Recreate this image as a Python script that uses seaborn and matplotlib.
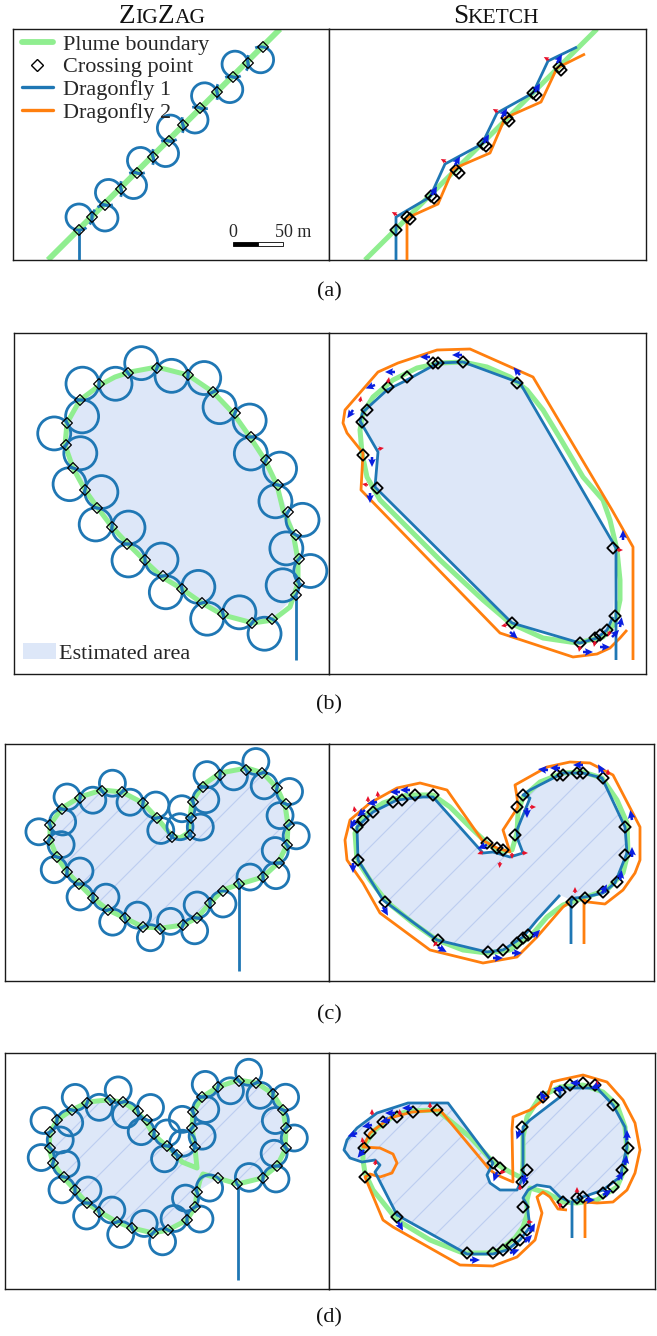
import numpy as np
import matplotlib
matplotlib.use("Agg")
import matplotlib.pyplot as plt
import seaborn as sns
from matplotlib.patches import Polygon, Circle, Arc, Rectangle, Patch
from matplotlib.lines import Line2D
from matplotlib.offsetbox import TextArea, HPacker, AnnotationBbox

sns.set_theme(style="white")
plt.rcParams["font.family"] = ["Liberation Serif", "DejaVu Serif"]

# ---------------- colours / styles ----------------
PLUME = "#90ee90"
D1 = "#1f77b4"
D2 = "#ff7f0e"
AREA = "#dde7f8"
HATCH = "#bccdf0"
LW_PLUME = 3.6
LW_TRACK = 2.0

# ---------------- data: field coordinates in metres (x east, y south) ----------------
# (a) straight plume front
A_PLUME_L = [(48, 260), (280, 29)]
A_PLUME_R = [(365, 260), (597, 29)]
A_ZZ_ENTRY = [(79, 260), (79, 230)]
A_ZZ_CROSS = [(79, 230), (92, 217), (105, 205), (121, 189), (137, 173), (153, 157), (169, 141),
              (183, 125), (200, 108), (217, 92), (233, 77), (248, 63), (263, 47)]
A_SK_D1 = [(396, 260), (396, 217), (430, 197), (445, 164), (482, 144), (497, 113), (533, 93),
           (548, 61), (577, 47)]
A_SK_D2 = [(407, 260), (407, 218), (438, 204), (453, 169), (490, 153), (505, 118), (541, 102),
           (557, 68), (585, 54)]
A_SK_CROSS = [(396, 230), (407, 217), (410, 219), (431, 196), (434, 198), (456, 170), (459, 173),
              (483, 144), (486, 146), (507, 118), (509, 121), (533, 93), (536, 95), (559, 67), (561, 70)]
A_SK_RED = [(397, 215, 150), (446, 162, 150), (498, 112, 150), (549, 60, 150)]
A_SK_BLUE = [(432, 195, 60), (455, 165, 60), (484, 143, 60), (502, 117, 60), (535, 92, 60), (557, 63, 60)]

# (b) elliptical plume
B_PLUME_L = [(157, 367), (188, 375), (213, 392), (233, 413), (250, 437), (265, 460), (277, 485),
             (283, 510), (293, 533), (298, 560), (298, 583), (290, 607), (273, 620), (253, 623),
             (223, 615), (202, 603), (182, 589), (162, 577), (145, 561), (127, 543), (112, 527),
             (97, 507), (85, 490), (73, 468), (65, 445), (67, 423), (80, 400), (100, 385),
             (115, 377), (130, 372)]
B_ZZ_ENTRY = [(296, 660), (296, 595)]
B_ZZ_CROSS = [(296, 595), (299, 583), (299, 559), (296, 535), (288, 512), (278, 485), (266, 460),
              (251, 437), (235, 413), (213, 392), (188, 375), (157, 368), (128, 373), (99, 384),
              (80, 400), (67, 423), (66, 445), (73, 468), (85, 490), (97, 508), (112, 527),
              (127, 544), (145, 560), (163, 576), (182, 589), (202, 603), (223, 614), (252, 623),
              (272, 619)]
B_PLUME_R = [(463, 362), (487, 367), (510, 377), (527, 390), (543, 410), (563, 443), (583, 477),
             (603, 500), (610, 520), (617, 550), (620, 580), (620, 600), (615, 623), (603, 637),
             (577, 643), (543, 638), (510, 623), (483, 600), (440, 560), (380, 500), (367, 477),
             (362, 453), (360, 430), (363, 413), (373, 397), (393, 380), (417, 368), (440, 363)]
B_SK_D1 = [(616, 660), (616, 617), (616, 548), (520, 383), (463, 362), (438, 363), (405, 381),
           (387, 390), (363, 412), (360, 421), (378, 452), (375, 487), (512, 623), (580, 643),
           (597, 638), (607, 630), (613, 617)]
B_SK_D2 = [(633, 660), (633, 547), (612, 510), (533, 377), (470, 349), (437, 350), (398, 363),
           (378, 372), (345, 410), (343, 423), (347, 433), (363, 453), (361, 490), (500, 633),
           (573, 657), (597, 654), (610, 648), (620, 638), (627, 630)]
B_SK_CROSS = [(362, 422), (367, 410), (388, 387), (407, 377), (433, 363), (438, 363), (463, 362),
              (517, 383), (363, 455), (377, 488), (613, 548), (512, 623), (580, 643), (595, 638),
              (600, 635), (607, 630), (615, 616)]
B_SK_RED = [(388, 383, 80), (360, 402, 80), (378, 449, 10), (368, 485, 170), (617, 550, 0),
            (507, 625, 190), (580, 646, 260), (595, 641, 260), (610, 631, 250)]
B_SK_BLUE = [(395, 372, 180), (375, 385, 200), (353, 410, 235), (372, 457, 270), (370, 493, 270),
             (430, 357, 180), (462, 355, 180), (520, 375, 130), (623, 540, 90), (510, 632, 320),
             (583, 652, 0), (600, 647, 0), (612, 637, 45), (620, 627, 80)]

# (c) heart-shaped plume
C_PLUME_L = [(240, 884), (263, 877), (278, 863), (287, 845), (288, 825), (285, 805), (277, 788),
             (263, 773), (247, 768), (220, 773), (203, 785), (192, 802), (190, 818), (188, 833),
             (180, 838), (172, 836), (157, 818), (143, 803), (122, 792), (102, 790), (80, 797),
             (62, 808), (50, 825), (50, 840), (57, 857), (67, 872), (80, 885), (93, 898), (108, 910),
             (125, 918), (143, 927), (162, 928), (183, 925), (197, 918), (210, 903), (223, 890)]
C_ZZ_ENTRY = [(239, 971), (239, 884)]
C_ZZ_CROSS = [(239, 884), (263, 877), (279, 863), (287, 845), (289, 825), (286, 804), (277, 788),
              (262, 773), (246, 770), (220, 775), (203, 787), (193, 802), (191, 818), (190, 835),
              (172, 837), (157, 818), (143, 803), (122, 792), (102, 791), (80, 798), (62, 809),
              (50, 825), (49, 840), (57, 857), (67, 872), (79, 884), (93, 898), (108, 910),
              (125, 918), (143, 927), (160, 929), (183, 925), (197, 918), (210, 903), (223, 891)]
C_PLUME_R = [(357, 860), (355, 833), (363, 817), (383, 803), (407, 795), (433, 795), (450, 807),
             (470, 827), (487, 843), (500, 852), (512, 850), (517, 833), (518, 813), (523, 797),
             (540, 782), (563, 773), (583, 772), (602, 778), (617, 800), (627, 823), (628, 853),
             (623, 873), (607, 890), (583, 898), (563, 905), (547, 917), (530, 937), (510, 950),
             (487, 953), (463, 950), (437, 940), (413, 923), (387, 902), (370, 880)]
C_SK_D1 = [(571, 944), (571, 900), (575, 898), (585, 897), (603, 893), (615, 883), (623, 863),
           (627, 853), (625, 827), (602, 778), (583, 773), (563, 773), (530, 790), (523, 795),
           (530, 798), (517, 830), (518, 840), (523, 853), (510, 857), (493, 852), (483, 853),
           (433, 797), (423, 797), (397, 800), (373, 812), (357, 827), (358, 860), (383, 900),
           (437, 940), (487, 952), (503, 950), (523, 937), (537, 920), (560, 895)]
C_SK_D2 = [(584, 944), (584, 900), (588, 902), (605, 904), (623, 890), (635, 873), (640, 860),
           (640, 827), (613, 775), (590, 763), (570, 762), (547, 767), (515, 785), (517, 797),
           (518, 807), (503, 830), (510, 852), (497, 848), (482, 840), (447, 790), (420, 783),
           (397, 788), (370, 803), (350, 820), (345, 840), (347, 860), (363, 883), (380, 913),
           (430, 950), (483, 963), (517, 957), (537, 937), (563, 907), (570, 902)]
C_SK_CROSS = [(357, 827), (358, 860), (385, 902), (438, 940), (488, 952), (503, 950), (517, 943),
              (523, 938), (528, 935), (572, 902), (585, 898), (603, 892), (617, 882), (625, 855),
              (625, 827), (603, 778), (583, 773), (577, 773), (563, 775), (557, 775), (523, 795),
              (517, 807), (515, 835), (497, 848), (503, 850), (487, 843), (433, 795), (415, 795),
              (402, 800), (393, 802), (373, 812), (363, 820)]
C_SK_RED = [(355, 812, 100), (368, 802, 90), (378, 797, 95), (437, 942, 230), (575, 893, 90),
            (530, 807, 0), (512, 853, 270), (500, 862, 265), (483, 852, 200), (522, 853, 0),
            (608, 775, 90)]
C_SK_BLUE = [(355, 820, 240), (353, 863, 270), (383, 907, 300), (438, 947, 330), (493, 958, 0),
             (512, 953, 0), (533, 937, 45), (602, 893, 60), (620, 880, 80), (632, 857, 90),
             (632, 820, 100), (603, 773, 120), (560, 768, 180), (583, 765, 180), (377, 802, 190),
             (400, 792, 180), (365, 810, 220), (487, 845, 200), (527, 808, 270), (410, 790, 180),
             (548, 770, 175)]

# (d) two-lobed plume
D_PLUME_L = [(238, 1184), (262, 1178), (277, 1166), (285, 1150), (286, 1128), (283, 1110),
             (273, 1094), (257, 1083), (238, 1080), (218, 1087), (202, 1097), (193, 1112),
             (192, 1128), (195, 1148), (197, 1168), (182, 1162), (177, 1155), (163, 1143),
             (153, 1134), (145, 1120), (135, 1110), (123, 1102), (107, 1100), (88, 1102),
             (72, 1110), (57, 1120), (50, 1133), (49, 1148), (53, 1163), (63, 1177), (75, 1190),
             (87, 1203), (100, 1212), (117, 1222), (132, 1228), (153, 1233), (168, 1230),
             (187, 1220), (195, 1207), (197, 1192), (200, 1180), (203, 1174), (217, 1178)]
D_ZZ_ENTRY = [(238, 1280), (238, 1184)]
D_ZZ_CROSS = [(237, 1184), (263, 1178), (277, 1166), (286, 1148), (286, 1128), (283, 1110),
              (273, 1094), (256, 1083), (239, 1081), (218, 1087), (202, 1097), (193, 1112),
              (192, 1128), (195, 1147), (177, 1155), (167, 1146), (154, 1134), (147, 1120),
              (138, 1111), (123, 1102), (110, 1100), (87, 1103), (72, 1110), (57, 1120),
              (50, 1132), (50, 1148), (53, 1163), (64, 1177), (75, 1190), (87, 1203), (99, 1212),
              (117, 1222), (132, 1228), (153, 1233), (168, 1230), (187, 1220), (195, 1207),
              (197, 1192), (218, 1178)]
D_PLUME_R = [(437, 1110), (470, 1137), (493, 1162), (510, 1172), (522, 1178), (523, 1160),
             (523, 1137), (527, 1117), (540, 1097), (560, 1087), (583, 1085), (603, 1092),
             (617, 1105), (625, 1127), (627, 1150), (623, 1173), (617, 1187), (597, 1200),
             (577, 1203), (563, 1202), (547, 1193), (530, 1188), (527, 1200), (527, 1215),
             (523, 1227), (515, 1238), (500, 1250), (487, 1253), (463, 1253), (430, 1240),
             (397, 1220), (373, 1190), (365, 1173), (363, 1160), (363, 1147), (375, 1130),
             (395, 1115), (410, 1111)]
D_SK_D1 = [(572, 1238), (572, 1202), (583, 1197), (603, 1190), (620, 1177), (627, 1147),
           (625, 1127), (613, 1105), (597, 1088), (577, 1088), (560, 1088), (560, 1097),
           (530, 1120), (523, 1127), (523, 1177), (517, 1190), (500, 1190), (490, 1183),
           (487, 1175), (493, 1163), (448, 1103), (408, 1103), (377, 1113), (357, 1128),
           (347, 1140), (344, 1150), (350, 1158), (362, 1162), (375, 1160), (380, 1165),
           (375, 1172), (397, 1215), (467, 1254), (493, 1254), (507, 1250), (520, 1240),
           (530, 1227), (527, 1205), (523, 1198), (528, 1190), (537, 1185), (550, 1187),
           (560, 1197), (570, 1202)]
D_SK_D2 = [(585, 1238), (585, 1202), (597, 1203), (613, 1202), (627, 1190), (635, 1173),
           (640, 1150), (635, 1123), (623, 1100), (607, 1082), (583, 1075), (560, 1080),
           (552, 1082), (547, 1097), (530, 1110), (513, 1117), (512, 1130), (513, 1182),
           (497, 1175), (490, 1170), (440, 1110), (412, 1112), (390, 1118), (370, 1133),
           (363, 1147), (380, 1148), (393, 1154), (397, 1163), (392, 1173), (380, 1177),
           (370, 1174), (365, 1177), (383, 1220), (393, 1227), (460, 1265), (493, 1266),
           (517, 1257), (535, 1240), (542, 1213), (537, 1197), (543, 1192), (550, 1197),
           (558, 1209), (567, 1210)]
D_SK_CROSS = [(364, 1148), (365, 1177), (397, 1217), (467, 1253), (493, 1253), (503, 1250),
              (512, 1245), (520, 1240), (527, 1230), (523, 1207), (522, 1182), (527, 1170),
              (522, 1127), (543, 1097), (560, 1092), (570, 1085), (583, 1083), (595, 1085),
              (613, 1105), (628, 1148), (622, 1170), (613, 1187), (603, 1193), (583, 1197),
              (577, 1198), (563, 1202), (493, 1163), (500, 1168), (437, 1110), (413, 1112),
              (397, 1117), (383, 1122), (370, 1133)]
D_SK_RED = [(363, 1143, 100), (372, 1115, 90), (375, 1165, 80), (500, 1172, 0), (520, 1190, 90),
            (577, 1193, 90), (597, 1086, 90), (560, 1203, 270), (430, 1108, 90), (400, 1115, 95),
            (527, 1222, 0)]
D_SK_BLUE = [(357, 1133, 200), (372, 1125, 190), (395, 1113, 180), (412, 1108, 180),
             (390, 1120, 190), (364, 1150, 230), (398, 1222, 300), (470, 1260, 0), (510, 1253, 20),
             (525, 1242, 45), (530, 1232, 60), (627, 1140, 90), (625, 1165, 80), (618, 1180, 60),
             (603, 1195, 30), (585, 1200, 0), (545, 1100, 120), (563, 1090, 170), (580, 1083, 180),
             (600, 1085, 200), (520, 1130, 250), (497, 1172, 250), (525, 1175, 260)]

# panel frames: (x0, x1, y0, y1) in the shared field frame
FRAMES = {
    "a": ((13, 329), (329, 646), (29, 260)),
    "b": ((14, 329), (329, 646), (333, 674)),
    "c": ((5, 329), (329, 654), (744, 981)),
    "d": ((5, 329), (329, 655), (1053, 1289)),
}
CAPTIONS = [("(a)", 292), ("(b)", 705), ("(c)", 1015), ("(d)", 1318)]

FIG_W, FIG_H = 657, 1336
fig = plt.figure(figsize=(FIG_W / 100, FIG_H / 100), dpi=100)


def add_ax(xr, yr):
    x0, x1 = xr
    y0, y1 = yr
    ax = fig.add_axes([x0 / FIG_W, 1 - y1 / FIG_H, (x1 - x0) / FIG_W, (y1 - y0) / FIG_H])
    ax.set_facecolor("white")
    for s in ax.spines.values():
        s.set_visible(True)
        s.set_color("#1a1a1a")
        s.set_linewidth(1.0)
    ax._frame = (x0, x1, y0, y1)
    return ax


def finish(ax):
    x0, x1, y0, y1 = ax._frame
    ax.set_xlim(x0, x1)
    ax.set_ylim(y1, y0)
    ax.set_xticks([])
    ax.set_yticks([])
    ax.set_xlabel("")
    ax.set_ylabel("")


def line(ax, pts, color, lw, z, closed=False):
    p = np.asarray(pts, float)
    if closed:
        p = np.vstack([p, p[:1]])
    sns.lineplot(x=p[:, 0], y=p[:, 1], sort=False, estimator=None, color=color, lw=lw,
                 ax=ax, zorder=z, solid_joinstyle="round", solid_capstyle="butt")


def crossings(ax, pts, lw=0.9, size=30):
    p = np.asarray(pts, float)
    ax.scatter(p[:, 0], p[:, 1], marker="D", s=size, facecolors="none",
               edgecolors="black", linewidths=lw, zorder=6)


def area(ax, pts, hatch=False):
    poly = Polygon(np.asarray(pts, float), closed=True, fc=AREA, ec="none", zorder=1)
    ax.add_patch(poly)
    if hatch:
        x0, x1, y0, y1 = ax._frame
        for c in np.arange(x0 + y0, x1 + y1 + 36, 36):
            ln, = ax.plot([c - y1, c - y0], [y1, y0], color=HATCH, lw=0.8, zorder=1.5)
            ln.set_clip_path(poly)


def loops(ax, cross, r, first_side, extra=None):
    p = np.asarray(cross, float)
    for i in range(len(p) - 1):
        a, b = p[i], p[i + 1]
        v = b - a
        c = np.hypot(*v)
        n = np.array([-v[1], v[0]]) / c
        s = first_side * (-1) ** i
        R = max(r, c / 2 + 0.5)
        h = np.sqrt(max(R ** 2 - (c / 2) ** 2, 0.0))
        ctr = (a + b) / 2 + s * h * n
        if extra is None:
            ax.add_patch(Circle(ctr, R, fill=False, ec=D1, lw=LW_TRACK, zorder=4))
        else:
            phi = np.degrees(np.arctan2(s * n[1], s * n[0]))
            alpha = 180 - np.degrees(np.arcsin(min(c / (2 * R), 1.0)))
            ax.add_patch(Arc(ctr, 2 * R, 2 * R, theta1=phi - alpha - extra,
                             theta2=phi + alpha + extra, ec=D1, lw=LW_TRACK, zorder=4))


def arrows(ax, spec, color, length, width):
    a = np.asarray(spec, float)
    ang = np.radians(a[:, 2])
    ax.quiver(a[:, 0], a[:, 1], length * np.cos(ang), -length * np.sin(ang), color=color,
              angles="xy", scale_units="xy", scale=1, width=width, headwidth=3.0,
              headlength=3.2, headaxislength=2.8, zorder=7)


def small_caps(x_px, y_px, parts, big=19.5, small=15.5):
    boxes = [TextArea(t, textprops=dict(fontsize=big if b else small, color="#111111"))
             for t, b in parts]
    pack = HPacker(children=boxes, align="baseline", pad=0, sep=0)
    ab = AnnotationBbox(pack, (x_px / FIG_W, 1 - y_px / FIG_H), xycoords="figure fraction",
                        box_alignment=(0.5, 0.0), frameon=False, pad=0)
    fig.add_artist(ab)


def sketch_side(ax, plume, d1, d2, cross, red, blue, area_start, hatch):
    area(ax, d1[area_start:], hatch=hatch)
    line(ax, plume, PLUME, LW_PLUME, 2, closed=len(plume) > 2)
    line(ax, d2, D2, LW_TRACK, 4)
    line(ax, d1, D1, LW_TRACK, 4)
    crossings(ax, cross, lw=1.3, size=34)
    arrows(ax, red, "#e8102a", 6, 0.005)
    arrows(ax, blue, "#0a1fe0", 10, 0.008)
    finish(ax)


# ---------------- (a) ----------------
axL = add_ax(FRAMES["a"][0], FRAMES["a"][2])
axR = add_ax(FRAMES["a"][1], FRAMES["a"][2])
line(axL, A_PLUME_L, PLUME, LW_PLUME + 0.6, 2)
line(axL, A_ZZ_ENTRY, D1, LW_TRACK, 4)
loops(axL, A_ZZ_CROSS, 13, -1, extra=35)
crossings(axL, A_ZZ_CROSS)
# scale bar (50 m)
axL.add_patch(Rectangle((233, 242), 25, 3.5, fc="black", ec="black", lw=0.6, zorder=5))
axL.add_patch(Rectangle((258, 242), 25, 3.5, fc="white", ec="black", lw=0.6, zorder=5))
axL.text(233, 237, "0", ha="center", va="baseline", fontsize=13)
axL.text(275, 237, "50 m", ha="left", va="baseline", fontsize=13)
handles = [Line2D([], [], color=PLUME, lw=LW_PLUME + 0.6),
           Line2D([], [], ls="none", marker="D", mfc="none", mec="black", ms=6, mew=1.0),
           Line2D([], [], color=D1, lw=LW_TRACK + 0.4),
           Line2D([], [], color=D2, lw=LW_TRACK + 0.4)]
axL.legend(handles, ["Plume boundary", "Crossing point", "Dragonfly 1", "Dragonfly 2"],
           loc="upper left", bbox_to_anchor=(0.028, 0.978), frameon=False, fontsize=16,
           handlelength=1.4, handletextpad=0.45, labelspacing=0.1, borderpad=0,
           borderaxespad=0)
finish(axL)

sketch_side(axR, A_PLUME_R, A_SK_D1, A_SK_D2, A_SK_CROSS, A_SK_RED, A_SK_BLUE, 0, False)
# no estimated area in the straight-front case
axR.patches[0].remove()

# ---------------- (b) ----------------
axL = add_ax(FRAMES["b"][0], FRAMES["b"][2])
axR = add_ax(FRAMES["b"][1], FRAMES["b"][2])
area(axL, B_ZZ_CROSS)
line(axL, B_PLUME_L, PLUME, LW_PLUME, 2, closed=True)
line(axL, B_ZZ_ENTRY, D1, LW_TRACK, 4)
loops(axL, B_ZZ_CROSS, 16.5, -1)
crossings(axL, B_ZZ_CROSS)
axL.legend([Patch(fc=AREA, ec="none")], ["Estimated area"], loc="lower left",
           bbox_to_anchor=(0.028, 0.03), frameon=False, fontsize=16, handlelength=1.5,
           handleheight=0.78, handletextpad=0.15, borderpad=0, borderaxespad=0)
finish(axL)
sketch_side(axR, B_PLUME_R, B_SK_D1, B_SK_D2, B_SK_CROSS, B_SK_RED, B_SK_BLUE, 2, False)

# ---------------- (c) ----------------
axL = add_ax(FRAMES["c"][0], FRAMES["c"][2])
axR = add_ax(FRAMES["c"][1], FRAMES["c"][2])
area(axL, C_ZZ_CROSS, hatch=True)
line(axL, C_PLUME_L, PLUME, LW_PLUME, 2, closed=True)
line(axL, C_ZZ_ENTRY, D1, LW_TRACK, 4)
loops(axL, C_ZZ_CROSS, 13, -1)
crossings(axL, C_ZZ_CROSS)
finish(axL)
sketch_side(axR, C_PLUME_R, C_SK_D1, C_SK_D2, C_SK_CROSS, C_SK_RED, C_SK_BLUE, 1, True)

# ---------------- (d) ----------------
axL = add_ax(FRAMES["d"][0], FRAMES["d"][2])
axR = add_ax(FRAMES["d"][1], FRAMES["d"][2])
area(axL, D_ZZ_CROSS, hatch=True)
line(axL, D_PLUME_L, PLUME, LW_PLUME, 2, closed=True)
line(axL, D_ZZ_ENTRY, D1, LW_TRACK, 4)
loops(axL, D_ZZ_CROSS, 13, -1)
crossings(axL, D_ZZ_CROSS)
finish(axL)
sketch_side(axR, D_PLUME_R, D_SK_D1, D_SK_D2, D_SK_CROSS, D_SK_RED, D_SK_BLUE, 1, True)

# ---------------- titles and captions ----------------
small_caps(162, 29, [("Z", True), ("IG", False), ("Z", True), ("AG", False)])
small_caps(496, 29, [("S", True), ("KETCH", False)])
for label, yc in CAPTIONS:
    fig.text(329 / FIG_W, 1 - yc / FIG_H, label, ha="center", va="center", fontsize=16,
             color="#111111")

fig.savefig("out.png", dpi=100)
